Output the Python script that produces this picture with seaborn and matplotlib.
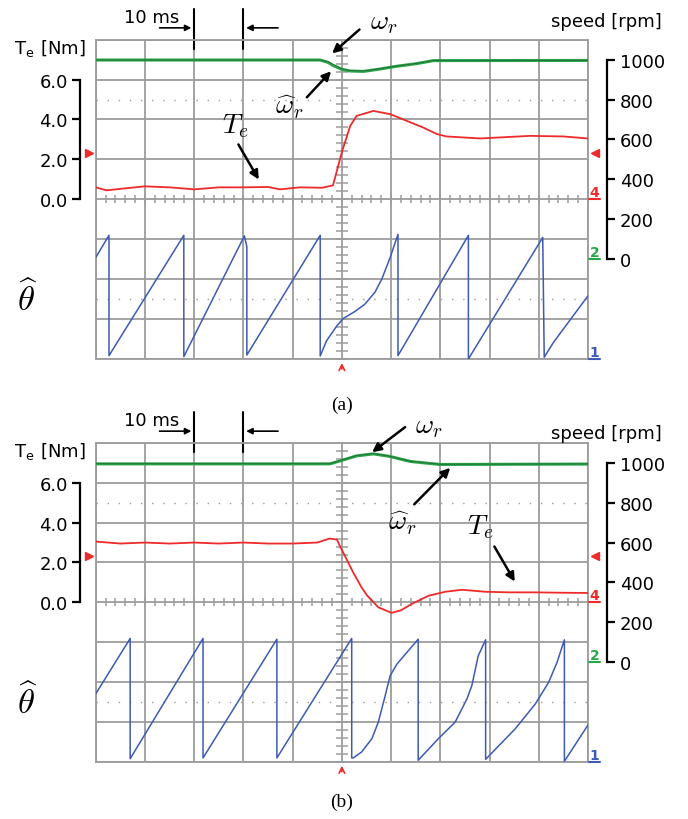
import numpy as np
import matplotlib
matplotlib.use("Agg")
import matplotlib.pyplot as plt
import matplotlib.transforms as mtransforms
import seaborn as sns

# traces read off the scope screens, time in ms relative to the trigger
# (a) load step up
a_te_t = [-50, -47.8, -44, -40, -35, -30, -25, -20, -15, -12.6, -8.5, -4, -1.8,
          0, 1.7, 3.0, 6.4, 9.8, 13.2, 16.5, 19.3, 21.3, 28.1, 38.2, 45, 50]
a_te = [0.6, 0.45, 0.55, 0.65, 0.6, 0.5, 0.6, 0.6, 0.62, 0.5, 0.6, 0.58, 0.7,
        2.37, 3.68, 4.18, 4.43, 4.27, 3.93, 3.6, 3.27, 3.15, 3.05, 3.18, 3.15, 3.05]

a_spd_t = [-50, -4.4, -2.8, -1.8, 0, 1.7, 4.4, 7.8, 11.2, 15.2, 18.6, 50]
a_wr = [998, 998, 990, 976, 955, 945, 943, 955, 968, 981, 996, 996]
a_wr_hat = [998, 998, 986, 971, 951, 943, 941, 953, 967, 980, 995, 996]

a_th_t = [-50, -47.3, -47.3, -32.1, -32.1, -19.8, -19.3, -19.3, -4.4, -4.4, -3.1,
          -1.0, 0.3, 2.7, 4.7, 6.7, 8.1, 9.8, 11.4, 11.4, 25.7, 25.7, 40.8, 41.1,
          43.0, 50.0]
a_th = [5.15, 6.28, 0.17, 6.28, 0.12, 6.25, 5.7, 0.2, 6.28, 0.15, 0.93,
        1.69, 2.06, 2.42, 2.79, 3.38, 4.05, 5.15, 6.33, 0.17, 6.28, 0.0, 6.17, 0.09,
        0.85, 3.21]

# (b) load step down
b_te_t = [-50, -45, -40, -35, -30, -25, -20, -15, -10, -5, -2.5, -1, -0.4, 2.3,
          4.0, 5.1, 7.4, 10.1, 12, 14.2, 17.6, 21.0, 24.4, 29.1, 34, 39.3, 45, 50]
b_te = [3.05, 2.95, 3.0, 2.95, 3.0, 2.95, 3.0, 2.95, 2.95, 3.0, 3.2, 3.15, 2.83, 1.5,
        0.75, 0.35, -0.25, -0.53, -0.4, -0.08, 0.33, 0.53, 0.63, 0.53, 0.5, 0.5, 0.48, 0.47]

b_spd_t = [-50, -2.4, 0.2, 3.0, 6.4, 9.8, 13.9, 19.9, 50]
b_wr = [996, 996, 1016, 1037, 1047, 1033, 1008, 993, 995]
b_wr_hat = [995, 995, 1014, 1035, 1045, 1032, 1007, 992, 994]

b_th_t = [-50, -43.0, -43.0, -28.2, -28.2, -13.2, -13.2, 2.0, 2.0, 2.3, 4.0, 6.1,
          7.4, 8.8, 9.8, 11.2, 13.2, 15.5, 15.5, 19.6, 23.0, 25.4, 26.4, 27.7, 29.2,
          29.2, 35.2, 39.3, 42.0, 43.7, 45.2, 45.2, 50.0]
b_th = [3.45, 6.27, 0.15, 6.27, 0.19, 6.23, 0.19, 6.27, 0.19, 0.19, 0.49, 1.17,
        2.01, 3.36, 4.37, 4.97, 5.56, 6.23, 0.07, 1.17, 2.01, 3.19, 3.87, 5.39, 6.20,
        0.12, 1.67, 2.94, 4.04, 5.05, 6.20, 0.02, 1.87]

te_ticks = [0, 2, 4, 6]
spd_ticks = [0, 200, 400, 600, 800, 1000]
trig_level = 2.3  # Nm

RED = "#ee2a2a"
GREEN = "#2aa64a"
DGREEN = "#1f5a30"
BLUE = "#3d5bb5"
GRID = "#9c9c9c"

sns.set_style("white")
plt.rcParams["font.family"] = ["DejaVu Sans"]
plt.rcParams["mathtext.fontset"] = "cm"
plt.rcParams["text.color"] = "black"
plt.rcParams["xtick.color"] = "black"
plt.rcParams["ytick.color"] = "black"
plt.rcParams["axes.labelcolor"] = "black"

fig = plt.figure(figsize=(6.88, 8.2), dpi=100)


def scope(rect, te_t, te, spd_t, wr, wr_hat, th_t, th):
    ax = fig.add_axes(rect)
    ax.set_xlim(-50, 50)
    ax.set_ylim(-4, 4)
    ax.set_xticks(np.arange(-50, 51, 10))
    ax.set_yticks(np.arange(-4, 5, 1))
    ax.grid(True, color=GRID, lw=1.3)
    ax.tick_params(length=0, labelbottom=False, labelleft=False)
    for s in ax.spines.values():
        s.set_color(GRID)
        s.set_linewidth(1.3)
    # crosshair minor ticks
    ax.plot(np.arange(-50, 50.1, 2), np.zeros(51), ls="none", marker="|",
            ms=6, mew=1.1, color=GRID)
    ax.plot(np.zeros(41), np.arange(-4, 4.01, 0.2), ls="none", marker="_",
            ms=8, mew=1.1, color=GRID)
    for yd in (-2.5, 2.5):
        ax.axhline(yd, color=GRID, lw=1, ls=(0, (1, 7)))

    ax_te = fig.add_axes(rect, sharex=ax)
    ax_sp = fig.add_axes(rect, sharex=ax)
    ax_th = fig.add_axes(rect, sharex=ax)
    for a in (ax_te, ax_sp, ax_th):
        a.patch.set_visible(False)
        for s in a.spines.values():
            s.set_visible(False)
        a.tick_params(bottom=False, labelbottom=False, left=False, labelleft=False)
    ax_te.set_ylim(-8, 8)
    ax_sp.set_ylim(-500, 1100)
    ax_th.set_ylim(0, 8 * 2 * np.pi / 3.1)

    sns.lineplot(x=th_t, y=th, ax=ax_th, color=BLUE, lw=1.1, estimator=None, sort=False)
    sns.lineplot(x=te_t, y=te, ax=ax_te, color=RED, lw=1.3, estimator=None, sort=False)
    sns.lineplot(x=spd_t, y=wr_hat, ax=ax_sp, color=GREEN, lw=2.2, estimator=None, sort=False)
    sns.lineplot(x=spd_t, y=wr, ax=ax_sp, color=DGREEN, lw=0.7, alpha=0.7,
                 estimator=None, sort=False)

    # Te axis on the left
    ax_te.spines["left"].set_visible(True)
    ax_te.spines["left"].set_position(("outward", 11))
    ax_te.spines["left"].set_bounds(0, 6)
    ax_te.spines["left"].set_linewidth(1.6)
    ax_te.spines["left"].set_color("k")
    ax_te.set_yticks(te_ticks)
    ax_te.set_yticklabels([f"{v:.1f}" for v in te_ticks])
    ax_te.tick_params(axis="y", left=True, labelleft=True, length=6, width=1.6,
                      labelsize=13, pad=3)

    # speed axis on the right
    ax_sp.spines["right"].set_visible(True)
    ax_sp.spines["right"].set_position(("outward", 14))
    ax_sp.spines["right"].set_bounds(0, 1000)
    ax_sp.spines["right"].set_linewidth(1.6)
    ax_sp.spines["right"].set_color("k")
    ax_sp.set_yticks(spd_ticks)
    ax_sp.yaxis.tick_right()
    ax_sp.tick_params(axis="y", right=True, labelright=True, left=False,
                      labelleft=False, length=6, width=1.6, labelsize=13, pad=3)
    for a in (ax, ax_te, ax_sp, ax_th):
        a.set_xlim(-50, 50)
        a.set_ylabel("")

    # channel ground markers and trigger marks
    for a, y, txt, c in ((ax_te, 0, "4", RED), (ax_sp, 0, "2", GREEN), (ax_th, 0, "1", BLUE)):
        tr = mtransforms.blended_transform_factory(a.transAxes, a.transData)
        a.plot([1.002, 1.024], [y, y], transform=tr, color=c, lw=1.5, clip_on=False)
        a.text(1.013, y, txt, transform=tr, color=c, ha="center", va="bottom",
               fontsize=10, fontweight="bold")
    tr = mtransforms.blended_transform_factory(ax_te.transAxes, ax_te.transData)
    ax_te.plot([-0.013], [trig_level], marker=">", ms=5.5, color=RED, transform=tr, clip_on=False)
    ax_te.plot([1.014], [trig_level], marker="<", ms=5.5, color=RED, transform=tr, clip_on=False)
    trx = mtransforms.blended_transform_factory(ax.transData, ax.transAxes)
    ax.annotate("", xy=(0, -0.004), xytext=(0, -0.04), xycoords=trx, textcoords=trx,
                arrowprops=dict(arrowstyle="->", color=RED, lw=1.2), annotation_clip=False)

    # 10 ms time scale marker
    for xb in (-30, -20):
        ax.plot([xb, xb], [0.971, 1.096], transform=trx, color="k", lw=1.5, clip_on=False)
    arr = dict(arrowstyle="-|>", color="k", lw=1.2, mutation_scale=9)
    ax.annotate("", xy=(-30, 1.037), xytext=(-37.6, 1.037), xycoords=trx, textcoords=trx,
                arrowprops=arr, annotation_clip=False)
    ax.annotate("", xy=(-20, 1.037), xytext=(-12.4, 1.037), xycoords=trx, textcoords=trx,
                arrowprops=arr, annotation_clip=False)
    ax.text(-38.6, 1.072, "10 ms", transform=trx, ha="center", va="center", fontsize=13)

    ax.text(-0.166, 0.973, r"T$_\mathregular{e}$ [Nm]", transform=ax.transAxes,
            ha="left", va="center", fontsize=13)
    ax.text(-0.14, 0.19, r"$\widehat{\theta}$", transform=ax.transAxes,
            ha="center", va="center", fontsize=25)
    return ax, ax_te, ax_sp


def pointer(a, label, txt_xy, tail, head, size=20):
    a.text(*txt_xy, label, ha="center", va="center", fontsize=size)
    a.annotate("", xy=head, xytext=tail,
               arrowprops=dict(arrowstyle="-|>", color="k", lw=1.8, mutation_scale=13),
               annotation_clip=False)


# panel (a)
ax, ax_te, ax_sp = scope([0.1391, 0.5610, 0.7156, 0.3894],
                         a_te_t, a_te, a_spd_t, a_wr, a_wr_hat, a_th_t, a_th)
ax.text(1.150, 1.060, "speed [rpm]", transform=ax.transAxes, ha="right", va="center",
        fontsize=13)
pointer(ax_sp, r"$\omega_r$", (8.6, 1192), (4.0, 1160), (-2.4, 1022))
pointer(ax_sp, r"$\widehat{\omega}_r$", (-10.7, 766), (-7.5, 801), (-1.8, 952))
pointer(ax_te, r"$T_e$", (-21.6, 3.7), (-21.3, 2.87), (-16.6, 0.87))
ax.text(0.5, -0.141, "(a)", transform=ax.transAxes, ha="center", va="center",
        fontsize=14, family="Liberation Serif")

# panel (b)
ax, ax_te, ax_sp = scope([0.1391, 0.0699, 0.7156, 0.3887],
                         b_te_t, b_te, b_spd_t, b_wr, b_wr_hat, b_th_t, b_th)
ax.text(1.150, 1.031, "speed [rpm]", transform=ax.transAxes, ha="right", va="center",
        fontsize=13)
pointer(ax_sp, r"$\omega_r$", (17.6, 1192), (13.3, 1188), (5.7, 1045))
pointer(ax_sp, r"$\widehat{\omega}_r$", (12.4, 705), (14.3, 782), (22.4, 985))
pointer(ax_te, r"$T_e$", (28.1, 3.82), (30.7, 2.92), (35.4, 0.92))
ax.text(0.5, -0.123, "(b)", transform=ax.transAxes, ha="center", va="center",
        fontsize=14, family="Liberation Serif")

fig.savefig("out.png", dpi=100)
